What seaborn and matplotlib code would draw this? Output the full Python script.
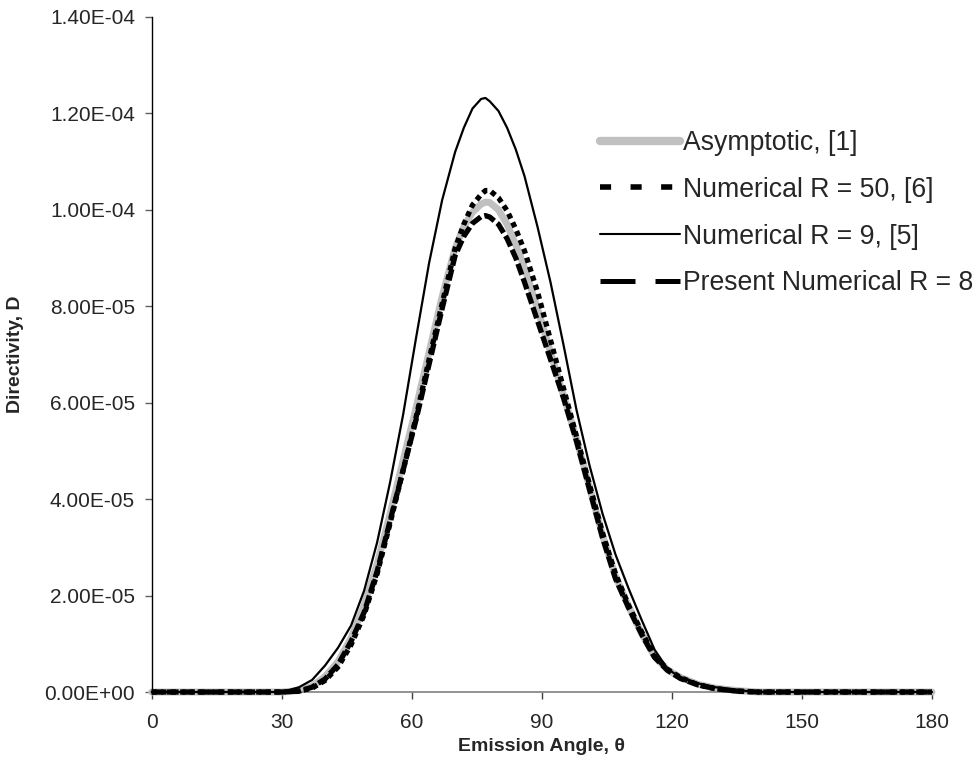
import numpy as np
import matplotlib
matplotlib.use("Agg")
import matplotlib.pyplot as plt
from matplotlib.lines import Line2D
from matplotlib.ticker import FuncFormatter
import seaborn as sns

# emission angle (deg) and directivity values, in units of 1e-5

theta = [0, 10, 20, 30, 34, 37, 40, 43, 46, 49, 52, 55, 58, 61, 64, 67, 70, 72, 74, 76, 77,
         78, 80, 82, 84, 86, 89, 92, 95, 98, 101, 104, 107, 110, 113, 116, 119, 122, 126,
         130, 135, 140, 150, 160, 170, 180]

asymptotic = [0, 0, 0, 0, 0.03, 0.12, 0.32, 0.63, 1.12, 1.8, 2.65, 3.7, 4.8, 5.9, 7.05, 8.2,
              9.2, 9.65, 9.95, 10.12, 10.16, 10.15, 10.0, 9.7, 9.27, 8.8, 7.95, 7.05, 6.15,
              5.25, 4.25, 3.25, 2.4, 1.78, 1.22, 0.74, 0.46, 0.3, 0.16, 0.08, 0.03, 0,
              0, 0, 0, 0]

num_r50 = [0, 0, 0, 0, 0.02, 0.08, 0.24, 0.52, 0.98, 1.6, 2.45, 3.5, 4.6, 5.7, 6.9, 8.05,
           9.2, 9.7, 10.1, 10.32, 10.4, 10.4, 10.25, 9.98, 9.6, 9.15, 8.3, 7.3, 6.3, 5.3,
           4.3, 3.3, 2.45, 1.8, 1.25, 0.75, 0.47, 0.3, 0.15, 0.07, 0.02, 0, 0, 0, 0, 0]

num_r9 = [0, 0, 0, 0, 0.1, 0.25, 0.55, 0.92, 1.38, 2.1, 3.1, 4.35, 5.75, 7.35, 8.9, 10.2,
          11.2, 11.7, 12.1, 12.3, 12.32, 12.25, 12.05, 11.7, 11.25, 10.7, 9.65, 8.5, 7.2,
          5.85, 4.7, 3.7, 2.85, 2.15, 1.5, 0.88, 0.48, 0.3, 0.18, 0.1, 0.04, 0, 0, 0, 0, 0]

present_r8 = [0, 0, 0, 0, 0.02, 0.1, 0.27, 0.57, 1.05, 1.65, 2.5, 3.55, 4.6, 5.65, 6.8, 7.95,
              9.05, 9.45, 9.72, 9.86, 9.88, 9.85, 9.7, 9.4, 9.0, 8.5, 7.7, 6.9, 6.1, 5.2,
              4.2, 3.2, 2.35, 1.75, 1.2, 0.72, 0.45, 0.28, 0.15, 0.07, 0.02, 0, 0, 0, 0, 0]

labels = ["Asymptotic, [1]", "Numerical R = 50, [6]", "Numerical R = 9, [5]",
          "Present Numerical R = 8"]

sns.set_style("ticks")
plt.rcParams['font.family'] = ['Liberation Sans', 'DejaVu Sans']

fig = plt.figure(figsize=(9.76, 7.78), dpi=100)
ax = fig.add_axes([0.1554, 0.1105, 0.7995, 0.8677])

scale = 1e-5
# gray asymptotic band underneath
sns.lineplot(x=theta, y=np.array(asymptotic) * scale, ax=ax, color='#c0c0c0',
             linewidth=5, estimator=None, clip_on=False, zorder=2)
sns.lineplot(x=theta, y=np.array(num_r50) * scale, ax=ax, color='black',
             linewidth=3.8, estimator=None, clip_on=False, zorder=3)
ax.lines[-1].set_dashes((1.0, 0.8))
sns.lineplot(x=theta, y=np.array(num_r9) * scale, ax=ax, color='black',
             linewidth=1.6, estimator=None, clip_on=False, zorder=4)
sns.lineplot(x=theta, y=np.array(present_r8) * scale, ax=ax, color='black',
             linewidth=3.8, estimator=None, clip_on=False, zorder=5)
ax.lines[-1].set_dashes((2.2, 0.7))

ax.set_xlim(0, 180)
ax.set_ylim(0, 1.4e-4)
ax.set_xticks(range(0, 181, 30))
ax.set_yticks(np.arange(0, 1.41e-4, 2e-5))
ax.yaxis.set_major_formatter(FuncFormatter(lambda v, p: f"{v:.2E}"))

for s in ['top', 'right']:
    ax.spines[s].set_visible(False)
ax.spines['left'].set_color('black')
ax.spines['left'].set_linewidth(1.0)
ax.spines['bottom'].set_color('#808080')
ax.spines['bottom'].set_linewidth(1.2)

ax.tick_params(axis='y', length=5, width=1, color='#606060', pad=7, labelsize=15)
ax.tick_params(axis='x', length=5, width=1, color='#404040', pad=10, labelsize=15)

ax.set_xlabel("Emission Angle, θ", fontsize=14, fontweight='bold')
ax.set_ylabel("Directivity, D", fontsize=14, fontweight='bold')
ax.xaxis.set_label_coords(0.5, -0.068)
ax.yaxis.set_label_coords(-0.163, 0.5)

# legend with the same look as the original
handles = [
    Line2D([], [], color='#c0c0c0', linewidth=6),
    Line2D([], [], color='black', linewidth=4, dashes=(2, 3.5)),
    Line2D([], [], color='black', linewidth=1.5),
    Line2D([], [], color='black', linewidth=3.6, dashes=(7, 4)),
]
fig.legend(handles, labels, loc='upper left', bbox_to_anchor=(0.6148, 0.833),
           frameon=False, fontsize=19.2, handlelength=3.0, handletextpad=0.12,
           labelspacing=0.78, borderpad=0, borderaxespad=0)

fig.savefig("out.png", dpi=100)
